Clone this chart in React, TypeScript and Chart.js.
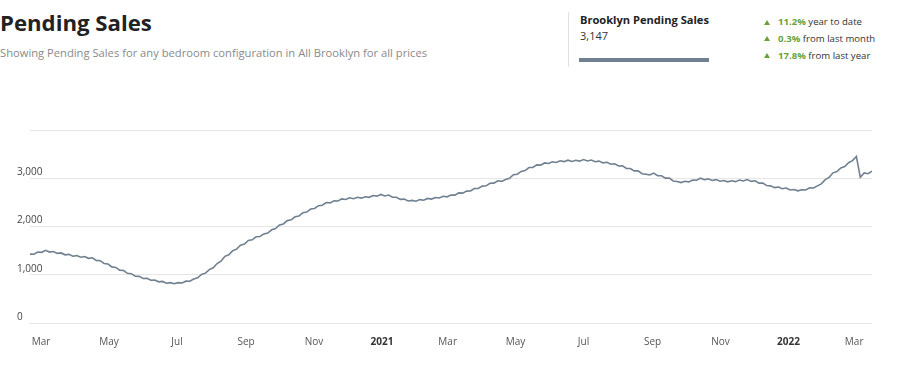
import React, { useEffect, useRef } from "react";
import { Chart, registerables } from "chart.js";

Chart.register(...registerables);

// Days since 1 Mar 2020 of the first sample, and spacing between samples (half-week)
const START_DAY = -10;
const STEP_DAYS = 3.5;

// Brooklyn pending sales, half-weekly samples (Feb 2020 – Mar 2022)
const pendingSales: number[] = [
  1427, 1426, 1472, 1465, 1507, 1470, 1482, 1443, 1452, 1413,
  1422, 1385, 1397, 1363, 1377, 1340, 1352, 1298, 1292, 1233,
  1222, 1163, 1152, 1095, 1087, 1030, 1022, 970, 967, 923,
  927, 885, 892, 853, 862, 825, 837, 813, 837, 828,
  867, 865, 912, 935, 1007, 1033, 1107, 1145, 1232, 1283,
  1382, 1415, 1497, 1530, 1612, 1638, 1712, 1725, 1787, 1793,
  1847, 1865, 1932, 1958, 2032, 2053, 2122, 2138, 2202, 2219,
  2285, 2299, 2362, 2373, 2432, 2440, 2497, 2490, 2532, 2528,
  2572, 2560, 2596, 2577, 2607, 2588, 2617, 2605, 2642, 2629,
  2665, 2634, 2652, 2605, 2607, 2563, 2567, 2530, 2542, 2525,
  2557, 2545, 2582, 2568, 2602, 2590, 2627, 2615, 2652, 2650,
  2697, 2691, 2733, 2736, 2787, 2788, 2837, 2843, 2897, 2898,
  2947, 2935, 2972, 2998, 3072, 3083, 3142, 3158, 3222, 3225,
  3277, 3273, 3317, 3305, 3342, 3328, 3362, 3344, 3374, 3349,
  3372, 3355, 3387, 3358, 3377, 3342, 3355, 3319, 3332, 3290,
  3297, 3253, 3257, 3205, 3202, 3153, 3152, 3093, 3082, 3070,
  3107, 3055, 3052, 3003, 3002, 2943, 2932, 2910, 2937, 2925,
  2962, 2958, 3002, 2970, 2987, 2955, 2972, 2938, 2952, 2925,
  2947, 2930, 2962, 2943, 2972, 2935, 2947, 2900, 2902, 2848,
  2842, 2805, 2817, 2783, 2797, 2758, 2767, 2740, 2762, 2758,
  2802, 2798, 2842, 2883, 2972, 3018, 3112, 3138, 3212, 3243,
  3322, 3366, 3450, 3020, 3110, 3095, 3147,
];

// X-axis tick positions (days since 1 Mar 2020) and labels
const monthTickDays: number[] = [0, 61, 122, 184, 245, 306, 365, 426, 487, 549, 610, 671, 730];
const monthTickLabels: string[] = ["Mar", "May", "Jul", "Sep", "Nov", "2021", "Mar", "May", "Jul", "Sep", "Nov", "2022", "Mar"];
const boldTickLabels: string[] = ["2021", "2022"];

// Y-axis ticks
const yTickValues: number[] = [0, 1000, 2000, 3000, 4000];
const yTickLabels: string[] = ["0", "1,000", "2,000", "3,000", ""];

const statValues: string[] = ["11.2%", "0.3%", "17.8%"];
const statTexts: string[] = ["year to date", "from last month", "from last year"];

const FONT = "'Open Sans', sans-serif";
const LINE_COLOR = "#708090";
const GREEN = "#6aa23a";

const yLabelPlugin = {
  id: "yLabelPlugin",
  afterDraw(chart: any) {
    const ctx = chart.ctx;
    const y = chart.scales.y;
    ctx.save();
    ctx.font = `10px ${FONT}`;
    ctx.fillStyle = "#444";
    ctx.textAlign = "left";
    ctx.textBaseline = "middle";
    yTickValues.forEach((v, i) => {
      const label = yTickLabels[i];
      if (!label) return;
      ctx.fillText(label, 17, y.getPixelForValue(v) - 6);
    });
    ctx.restore();
  },
};

function PendingChart() {
  const ref = useRef<HTMLCanvasElement | null>(null);
  useEffect(() => {
    if (!ref.current) return;
    const points = pendingSales.map((v, i) => ({ x: START_DAY + i * STEP_DAYS, y: v }));
    const chart = new Chart(ref.current, {
      type: "line",
      data: {
        datasets: [
          {
            data: points,
            borderColor: LINE_COLOR,
            borderWidth: 1.6,
            pointRadius: 0,
            tension: 0,
            fill: false,
          },
        ],
      },
      options: {
        animation: false,
        responsive: false,
        maintainAspectRatio: false,
        layout: { padding: { left: 30, right: 35, top: 30, bottom: 0 } },
        plugins: { legend: { display: false }, tooltip: { enabled: false } },
        scales: {
          x: {
            type: "linear",
            min: START_DAY,
            max: START_DAY + (pendingSales.length - 1) * STEP_DAYS,
            grid: { display: false, drawTicks: false },
            border: { display: false },
            afterBuildTicks: (scale: any) => {
              scale.ticks = monthTickDays.map((d) => ({ value: d }));
            },
            afterFit: (scale: any) => {
              scale.height = 44;
            },
            ticks: {
              autoSkip: false,
              maxRotation: 0,
              padding: 13,
              color: (c: any) => (boldTickLabels.includes(c.tick?.label) ? "#333" : "#555"),
              font: (c: any) => ({
                family: FONT,
                size: 10,
                weight: boldTickLabels.includes(c.tick?.label) ? "bold" : "normal",
              }),
              callback: (value: any) => {
                const idx = monthTickDays.indexOf(Number(value));
                return idx >= 0 ? monthTickLabels[idx] : "";
              },
            },
          },
          y: {
            min: 0,
            max: 4000,
            afterBuildTicks: (scale: any) => {
              scale.ticks = yTickValues.map((v) => ({ value: v }));
            },
            grid: { color: "#e6e6e6", lineWidth: 1, drawTicks: false },
            border: { display: false },
            ticks: { display: false },
            afterFit: (scale: any) => {
              scale.width = 0;
            },
          },
        },
      },
      plugins: [yLabelPlugin],
    });
    return () => chart.destroy();
  }, []);
  return <canvas ref={ref} width={907} height={267} style={{ position: "absolute", left: 0, top: 100, width: 907, height: 267 }} />;
}

export default function App() {
  return (
    <div style={{ position: "absolute", left: 0, top: 0, width: 907, height: 367, background: "#fff", fontFamily: FONT, overflow: "hidden" }}>
      <div style={{ position: "absolute", left: 0, top: 12, fontSize: 22.2, lineHeight: 1, fontWeight: 700, color: "#222", whiteSpace: "nowrap" }}>
        Pending Sales
      </div>
      <div style={{ position: "absolute", left: 0, top: 47, fontSize: 11.2, lineHeight: 1, color: "#8a8a8a", whiteSpace: "nowrap" }}>
        Showing Pending Sales for any bedroom configuration in All Brooklyn for all prices
      </div>
      <div style={{ position: "absolute", left: 568, top: 12, width: 1, height: 55, background: "#e2e2e2" }} />
      <div style={{ position: "absolute", left: 580, top: 14, fontSize: 11.1, lineHeight: 1, fontWeight: 700, color: "#222", whiteSpace: "nowrap" }}>
        Brooklyn Pending Sales
      </div>
      <div style={{ position: "absolute", left: 580, top: 30, fontSize: 11, lineHeight: 1, color: "#333", whiteSpace: "nowrap" }}>
        3,147
      </div>
      <div style={{ position: "absolute", left: 579, top: 58, width: 130, height: 4, background: LINE_COLOR }} />
      {statValues.map((v, i) => (
        <div key={i} style={{ position: "absolute", left: 764, top: 16 + i * 16.7, height: 12, display: "flex", alignItems: "center", whiteSpace: "nowrap", fontSize: 9.6, lineHeight: 1, color: "#333" }}>
          <span style={{ display: "inline-block", width: 0, height: 0, borderLeft: "3px solid transparent", borderRight: "3px solid transparent", borderBottom: `5px solid ${GREEN}`, marginRight: 8 }} />
          <span style={{ color: GREEN, fontWeight: 700 }}>{v}</span>
          <span>&nbsp;{statTexts[i]}</span>
        </div>
      ))}
      <PendingChart />
    </div>
  );
}
